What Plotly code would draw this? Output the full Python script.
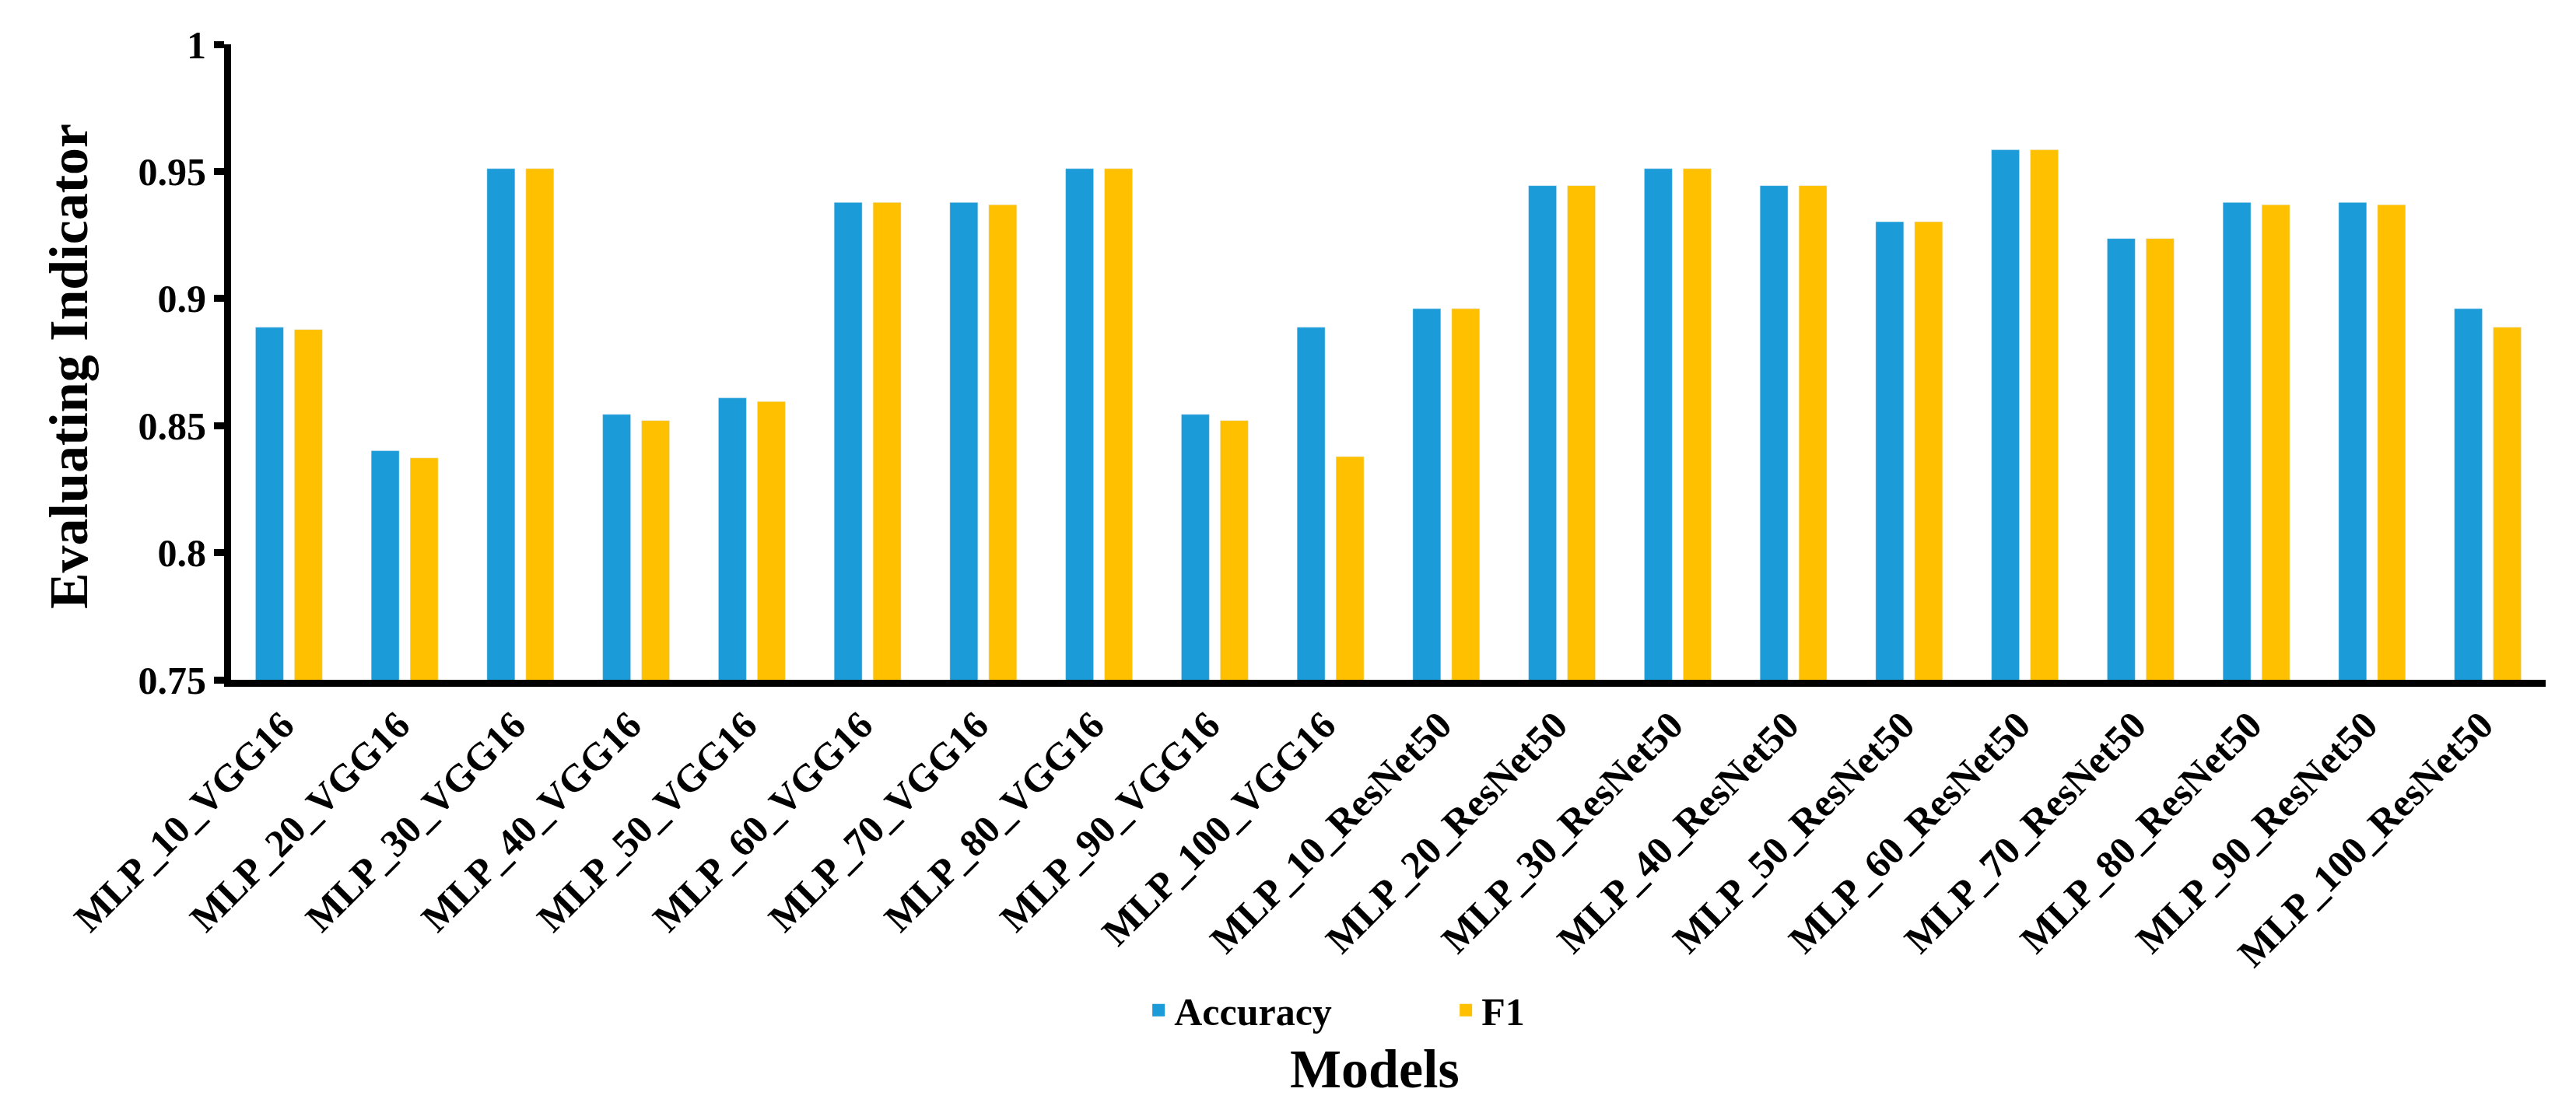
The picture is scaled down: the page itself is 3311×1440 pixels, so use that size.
import plotly.graph_objects as go

models = ["MLP_10_VGG16", "MLP_20_VGG16", "MLP_30_VGG16", "MLP_40_VGG16", "MLP_50_VGG16",
          "MLP_60_VGG16", "MLP_70_VGG16", "MLP_80_VGG16", "MLP_90_VGG16", "MLP_100_VGG16",
          "MLP_10_ResNet50", "MLP_20_ResNet50", "MLP_30_ResNet50", "MLP_40_ResNet50", "MLP_50_ResNet50",
          "MLP_60_ResNet50", "MLP_70_ResNet50", "MLP_80_ResNet50", "MLP_90_ResNet50", "MLP_100_ResNet50"]
accuracy = [0.8887, 0.8401, 0.9511, 0.8544, 0.8609, 0.9378, 0.9378, 0.9511, 0.8544, 0.8887,
            0.8960, 0.9444, 0.9511, 0.9444, 0.9302, 0.9585, 0.9236, 0.9378, 0.9378, 0.8960]
f1 = [0.8878, 0.8373, 0.9511, 0.8520, 0.8595, 0.9378, 0.9369, 0.9511, 0.8520, 0.8378,
      0.8960, 0.9444, 0.9511, 0.9444, 0.9302, 0.9585, 0.9236, 0.9369, 0.9369, 0.8887]
y_ticks = [0.75, 0.8, 0.85, 0.9, 0.95, 1]
y_ticktext = ["0.75", "0.8", "0.85", "0.9", "0.95", "1"]

BLUE = "#1B9BD7"
GOLD = "#FFC000"
FONT = "Liberation Serif"

fig = go.Figure()
fig.add_trace(go.Bar(x=models, y=accuracy, name="Accuracy", marker=dict(color=BLUE), showlegend=False))
fig.add_trace(go.Bar(x=models, y=f1, name="F1", marker=dict(color=GOLD), showlegend=False))
# legend entries with larger square swatches
fig.add_trace(go.Scatter(x=[None], y=[None], mode="markers", name="Accuracy",
                         marker=dict(symbol="square", size=16, color=BLUE)))
fig.add_trace(go.Scatter(x=[None], y=[None], mode="markers", name="F1",
                         marker=dict(symbol="square", size=16, color=GOLD)))

fig.update_layout(
    width=3311, height=1440,
    margin=dict(l=289, r=47, t=49, b=574),
    paper_bgcolor="white", plot_bgcolor="white",
    barmode="group", bargap=0.328, bargroupgap=0.28,
    font=dict(family=FONT, color="black", size=50, weight="bold"),
    legend=dict(orientation="h", x=0.394, xanchor="left", y=-0.52, yanchor="middle",
                font=dict(family=FONT, size=50, color="black", weight="bold"),
                entrywidth=350, entrywidthmode="pixels", bgcolor="rgba(0,0,0,0)"),
    xaxis=dict(type="category", categoryorder="array", categoryarray=models,
               showline=True, linewidth=9, linecolor="black", ticks="",
               tickangle=-45, showgrid=False, zeroline=False, ticklabelshift=-8,
               tickfont=dict(family=FONT, size=50, color="black", weight="bold")),
    yaxis=dict(range=[0.75, 1], tickvals=y_ticks, ticktext=y_ticktext,
               showline=True, linewidth=9, linecolor="black",
               ticks="outside", ticklen=13, tickwidth=9, tickcolor="black",
               showgrid=False, zeroline=False,
               tickfont=dict(family=FONT, size=50, color="black", weight="bold")),
    annotations=[
        dict(text="Evaluating Indicator", xref="paper", yref="paper", x=-0.0703, y=0.493,
             xanchor="center", yanchor="middle", textangle=-90, showarrow=False,
             font=dict(family=FONT, size=70, color="black", weight="bold")),
        dict(text="Models", xref="paper", yref="paper", x=0.494, y=-0.613,
             xanchor="center", yanchor="middle", showarrow=False,
             font=dict(family=FONT, size=70, color="black", weight="bold")),
    ],
)

fig.write_html("out.html")
